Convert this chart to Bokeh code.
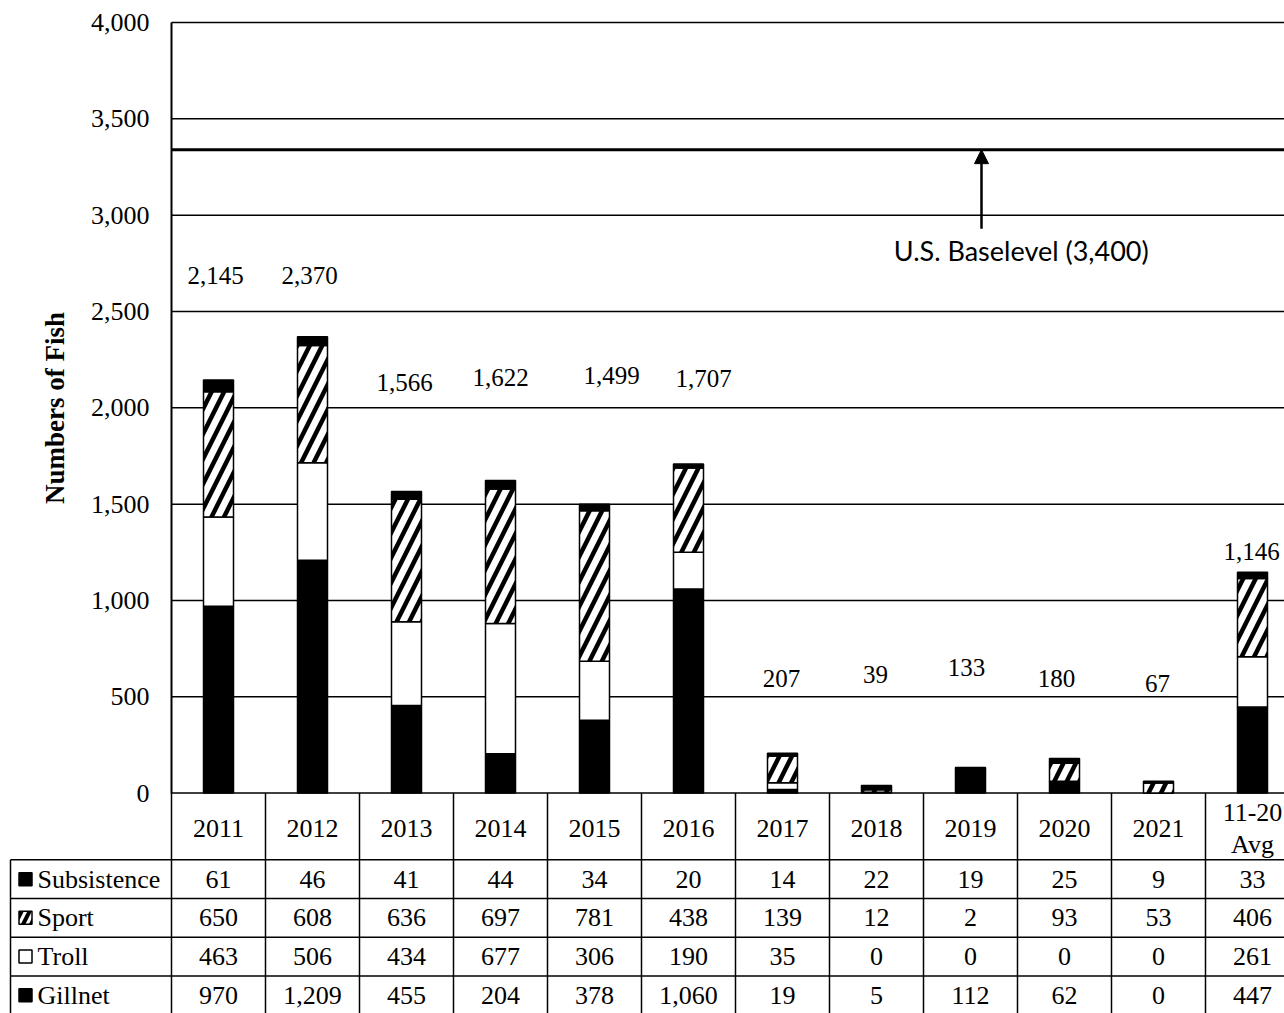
from bokeh.plotting import figure
from bokeh.models import (Range1d, LinearAxis, FixedTicker, NumeralTickFormatter,
                          ColumnDataSource, Arrow, NormalHead)
from bokeh.core.properties import value
from bokeh.embed import file_html
from bokeh.resources import INLINE

# ---------------- data ----------------
categories = ["2011", "2012", "2013", "2014", "2015", "2016", "2017", "2018",
              "2019", "2020", "2021", "11-20\nAvg"]
gillnet = [970, 1209, 455, 204, 378, 1060, 19, 5, 112, 62, 0, 447]
troll = [463, 506, 434, 677, 306, 190, 35, 0, 0, 0, 0, 261]
sport = [650, 608, 636, 697, 781, 438, 139, 12, 2, 93, 53, 406]
subsistence = [61, 46, 41, 44, 34, 20, 14, 22, 19, 25, 9, 33]
total_labels = [2145, 2370, 1566, 1622, 1499, 1707, 207, 39, 133, 180, 67, 1146]
y_ticks = [0, 500, 1000, 1500, 2000, 2500, 3000, 3500, 4000]
baselevel_line = 3340
baselevel_text = "U.S. Baselevel (3,400)"
row_names = ["Subsistence", "Sport", "Troll", "Gillnet"]

# label positions (data units) for the total labels, and pixel nudges
label_y = [2685, 2685, 2131, 2157, 2167, 2151, 593, 614, 650, 593, 568, 1252]
label_dx = [-3, -3, -2, 0, 17, 15, -1, -1, -4, -8, -1, -1]

# ---------------- geometry ----------------
W, H = 1284, 1013
COL = 94.0                 # px per category column
PXU = 770.6 / 4000.0       # px per fish
AXIS_PX = 171              # canvas x of the value axis
TOP_PX = 22                # canvas y of the 4,000 line
x_start = -AXIS_PX / COL
x_end = (W - AXIS_PX) / COL
y_end = 4000 + TOP_PX / PXU
y_start = y_end - H / PXU

SERIF = value("Liberation Serif")

p = figure(width=W, height=H, output_backend="svg", toolbar_location=None,
           x_range=Range1d(x_start, x_end), y_range=Range1d(y_start, y_end),
           x_axis_location=None, y_axis_location=None,
           min_border_left=0, min_border_right=0, min_border_top=0,
           min_border_bottom=0)
p.outline_line_color = None
p.xgrid.visible = False
p.ygrid.visible = False
p.background_fill_color = "white"
p.border_fill_color = "white"

n = len(categories)
xc = [i + 0.5 for i in range(n)]

# gridlines (start at the axis, not in the label column)
p.segment(x0=[0] * len(y_ticks), x1=[x_end] * len(y_ticks), y0=y_ticks, y1=y_ticks,
          line_color="black", line_width=1.5)

# baselevel line
p.segment(x0=[0], x1=[x_end], y0=[baselevel_line], y1=[baselevel_line],
          line_color="black", line_width=3)

# stacked bars
b1 = [0] * n
t1 = [b + v for b, v in zip(b1, gillnet)]
t2 = [b + v for b, v in zip(t1, troll)]
t3 = [b + v for b, v in zip(t2, sport)]
t4 = [b + v for b, v in zip(t3, subsistence)]
BW = 30 / COL
p.vbar(x=xc, bottom=b1, top=t1, width=BW, fill_color="black", line_color="black", line_width=1.5)
p.vbar(x=xc, bottom=t1, top=t2, width=BW, fill_color="white", line_color="black", line_width=1.5)
p.vbar(x=xc, bottom=t2, top=t3, width=BW, fill_color="white", line_color="black", line_width=1.5,
       hatch_pattern="/", hatch_color="black", hatch_scale=25, hatch_weight=4.5)
p.vbar(x=xc, bottom=t3, top=t4, width=BW, fill_color="black", line_color="black", line_width=1.5)

# total labels
lsrc = ColumnDataSource(dict(x=xc, y=label_y, t=[f"{v:,}" for v in total_labels], dx=label_dx))
p.text(x="x", y="y", text="t", x_offset="dx", source=lsrc, text_font=SERIF,
       text_font_size="25px", text_align="center", text_baseline="middle", text_color="black")

# baselevel arrow and text
p.add_layout(Arrow(end=NormalHead(size=14, fill_color="black", line_color="black"),
                   x_start=8.617, y_start=2929, x_end=8.617, y_end=baselevel_line,
                   line_width=2.5, line_color="black"))
p.text(x=[9.04], y=[2815], text=[baselevel_text], text_font=value("Lato"),
       text_font_size="27px", text_align="center", text_baseline="middle", text_color="black")

# value axis at x = 0
yaxis = LinearAxis(fixed_location=0, ticker=FixedTicker(ticks=y_ticks),
                   formatter=NumeralTickFormatter(format="0,0"), bounds=(0, 4000),
                   axis_label="Numbers of Fish")
yaxis.axis_line_width = 2
yaxis.axis_line_color = "black"
yaxis.major_tick_in = 0
yaxis.major_tick_out = 0
yaxis.minor_tick_in = 0
yaxis.minor_tick_out = 0
yaxis.major_label_standoff = 22
yaxis.major_label_text_font = "Liberation Serif"
yaxis.major_label_text_font_size = "26px"
yaxis.major_label_text_color = "black"
yaxis.axis_label_text_font = "Liberation Serif"
yaxis.axis_label_text_font_size = "27px"
yaxis.axis_label_text_font_style = "bold"
yaxis.axis_label_text_color = "black"
yaxis.axis_label_standoff = 18
p.add_layout(yaxis, "left")

# ---------------- data table ----------------
HEADER_PX = 66.7
ROW_PX = 38.7
hdr_bottom = -HEADER_PX / PXU
row_edges = [hdr_bottom - i * ROW_PX / PXU for i in range(len(row_names) + 1)]
row_centers = [(a + b) / 2 for a, b in zip(row_edges[:-1], row_edges[1:])]
label_left = -(AXIS_PX - 10) / COL

# horizontal lines
p.segment(x0=[label_left] * len(row_edges), x1=[x_end] * len(row_edges),
          y0=row_edges, y1=row_edges, line_color="black", line_width=1.5)
# vertical lines
vx = list(range(n + 1))
p.segment(x0=vx, x1=vx, y0=[0] * len(vx), y1=[y_start] * len(vx), line_color="black", line_width=1.5)
p.segment(x0=[label_left], x1=[label_left], y0=[hdr_bottom], y1=[y_start],
          line_color="black", line_width=1.5)

# header: categories
p.text(x=xc, y=[hdr_bottom / 2 - 2 / PXU] * n, text=categories, text_font=SERIF, text_font_size="26px",
       text_align="center", text_baseline="middle", text_color="black", text_line_height=1.12)

# rows
series_rows = [subsistence, sport, troll, gillnet]
for yc, vals in zip(row_centers, series_rows):
    p.text(x=xc, y=[yc] * n, text=[f"{v:,}" for v in vals], text_font=SERIF,
           text_font_size="26px", text_align="center", text_baseline="middle", text_color="black")

icon_x = -(AXIS_PX - 25) / COL
text_x = -(AXIS_PX - 37) / COL
p.text(x=[text_x] * len(row_names), y=row_centers, text=row_names, text_font=SERIF,
       text_font_size="26px", text_align="left", text_baseline="middle", text_color="black")
icon_fill = ["black", "white", "white", "black"]
p.scatter(x=[icon_x, icon_x, icon_x], y=[row_centers[0], row_centers[2], row_centers[3]],
          marker="square", size=13, fill_color=[icon_fill[0], icon_fill[2], icon_fill[3]],
          line_color="black", line_width=1.5)
p.scatter(x=[icon_x], y=[row_centers[1]], marker="square", size=13, fill_color="white",
          line_color="black", line_width=1.5, hatch_pattern="/", hatch_color="black",
          hatch_scale=16, hatch_weight=4)

open("out.html", "w").write(file_html(p, INLINE))
